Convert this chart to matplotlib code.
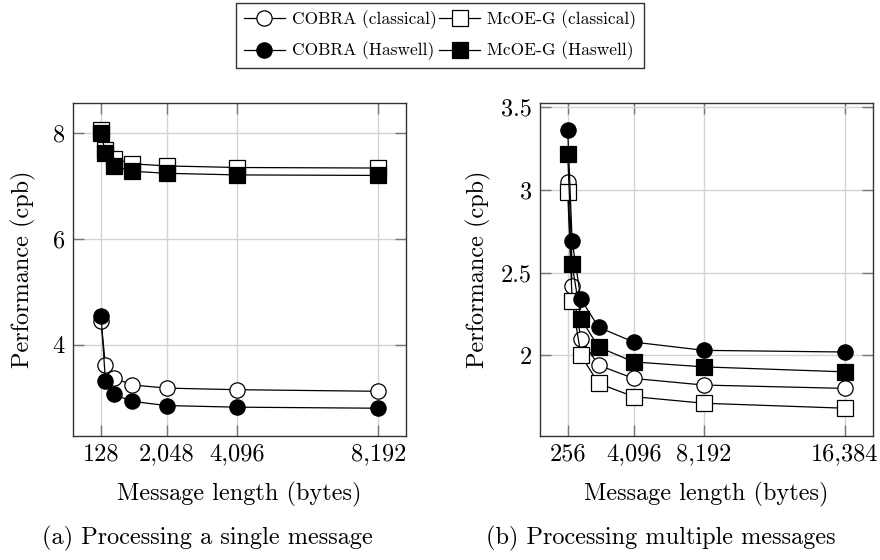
import matplotlib
matplotlib.use("Agg")
import matplotlib.pyplot as plt
from matplotlib.ticker import FixedLocator, FuncFormatter

plt.rcParams['font.family'] = ['cmr10', 'DejaVu Serif']
plt.rcParams['font.size'] = 17.5
plt.rcParams['axes.unicode_minus'] = False

# Data: (a) single message
x_single = [128, 256, 512, 1024, 2048, 4096, 8192]
cobra_classical_single = [4.45, 3.62, 3.37, 3.24, 3.18, 3.15, 3.12]
mcoe_classical_single = [8.05, 7.69, 7.52, 7.42, 7.38, 7.35, 7.34]
cobra_haswell_single = [4.55, 3.32, 3.06, 2.93, 2.85, 2.82, 2.80]
mcoe_haswell_single = [8.00, 7.63, 7.38, 7.28, 7.24, 7.21, 7.20]

# Data: (b) multiple messages
x_multi = [256, 512, 1024, 2048, 4096, 8192, 16384]
cobra_classical_multi = [3.05, 2.42, 2.10, 1.94, 1.86, 1.82, 1.80]
mcoe_classical_multi = [2.99, 2.33, 2.00, 1.83, 1.75, 1.71, 1.68]
cobra_haswell_multi = [3.36, 2.69, 2.34, 2.17, 2.08, 2.03, 2.02]
mcoe_haswell_multi = [3.215, 2.55, 2.22, 2.05, 1.96, 1.93, 1.90]

xticks_single = [128, 2048, 4096, 8192]
xticks_multi = [256, 4096, 8192, 16384]
yticks_single = [4, 6, 8]
yticks_multi = [2, 2.5, 3, 3.5]

labels = ["COBRA (classical)", "McOE-G (classical)", "COBRA (Haswell)", "McOE-G (Haswell)"]
markers = ["o", "s", "o", "s"]
faces = ["white", "white", "black", "black"]

W, H = 880, 560
FS = 17.5
fig = plt.figure(figsize=(W / 100, H / 100), dpi=100)

def ax_rect(x0, x1, y0, y1):
    return [x0 / W, 1 - y1 / H, (x1 - x0) / W, (y1 - y0) / H]

axA = fig.add_axes(ax_rect(73.3, 406, 102.7, 436))
axB = fig.add_axes(ax_rect(540, 872.7, 102.7, 436))

def enlarge(vals, frac=0.1):
    lo, hi = min(vals), max(vals)
    d = (hi - lo) * frac
    return lo - d, hi + d

handles = []
for ax, xs, series, xt, yt, ylx in [
    (axA, x_single, [cobra_classical_single, mcoe_classical_single, cobra_haswell_single, mcoe_haswell_single], xticks_single, yticks_single, -0.151),
    (axB, x_multi, [cobra_classical_multi, mcoe_classical_multi, cobra_haswell_multi, mcoe_haswell_multi], xticks_multi, yticks_multi, -0.185),
]:
    hs = []
    for ys, m, fc, lab in zip(series, markers, faces, labels):
        h, = ax.plot(xs, ys, color='black', lw=0.9, marker=m, markersize=11,
                     markerfacecolor=fc, markeredgecolor='black', markeredgewidth=0.9,
                     label=lab, zorder=3)
        hs.append(h)
    handles = hs
    allv = [v for s in series for v in s]
    ax.set_xlim(*enlarge(xs))
    ax.set_ylim(*enlarge(allv))
    ax.xaxis.set_major_locator(FixedLocator(xt))
    ax.xaxis.set_major_formatter(FuncFormatter(lambda v, p: f"{int(v):,}"))
    ax.yaxis.set_major_locator(FixedLocator(yt))
    ax.yaxis.set_major_formatter(FuncFormatter(lambda v, p: f"{v:g}"))
    ax.grid(True, color='#d3d3d3', lw=1.0, zorder=0)
    ax.tick_params(direction='in', length=8, width=1.0, color='#777777',
                   top=True, right=True, labelsize=FS)
    ax.tick_params(axis='x', pad=5)
    ax.tick_params(axis='y', pad=6)
    for sp in ax.spines.values():
        sp.set_color('#333333')
        sp.set_linewidth(1.0)
    ax.set_axisbelow(True)
    ax.set_xlabel("Message length (bytes)", fontsize=FS, va='center')
    ax.set_ylabel("Performance (cpb)", fontsize=FS, va='center')
    ax.xaxis.set_label_coords(0.5, -0.174)
    ax.yaxis.set_label_coords(ylx, 0.5)

fig.text(207 / W, 1 - 538 / H, "(a) Processing a single message", ha='center', va='center', fontsize=FS)
fig.text(661 / W, 1 - 538 / H, "(b) Processing multiple messages", ha='center', va='center', fontsize=FS)

order = [0, 2, 1, 3]
LFS = 12.5
leg = fig.legend([handles[i] for i in order], [labels[i] for i in order], ncol=2,
                 loc='upper center', bbox_to_anchor=(0.5, 1 - 2.7 / H),
                 frameon=True, fancybox=False, framealpha=1, edgecolor='#333333',
                 handlelength=2.35, handletextpad=0.4, columnspacing=0.15,
                 labelspacing=0.72, borderpad=0.45, borderaxespad=0, fontsize=LFS)
leg.get_frame().set_linewidth(1.0)

fig.savefig("out.png", dpi=100)
